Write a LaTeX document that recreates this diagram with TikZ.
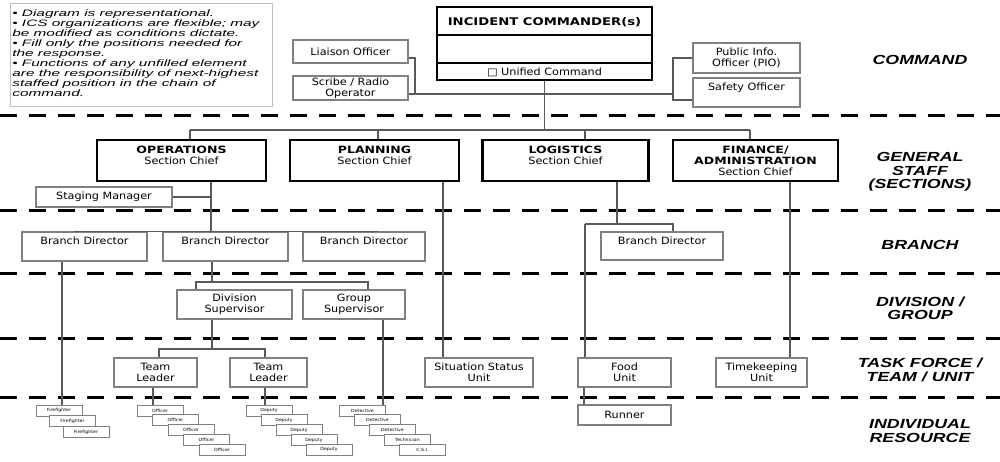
\documentclass[tikz,border=0pt]{standalone}
\usepackage{fontspec}
\setmainfont{DejaVu Sans}
\newfontfamily\boxfont[FakeStretch=1.12]{DejaVu Sans}
\newfontfamily\headfont[FakeStretch=1.25]{DejaVu Sans}
\newfontfamily\tierfont[FakeStretch=1.35]{Liberation Sans}
\newfontfamily\notefont[FakeStretch=1.65]{Liberation Sans}
\usetikzlibrary{positioning}
\usepackage{xcolor}
\definecolor{boxline}{gray}{0.5}
\definecolor{wireline}{gray}{0.35}

\begin{document}
\begin{tikzpicture}[
        x=0.02cm, y=-0.02cm,
        sz/.style 2 args={minimum width=#1*0.02cm, minimum height=#2*0.02cm},
        box/.style={
            draw=boxline,
            line width=0.8pt,
            fill=white,
            inner sep=0pt,
            align=center,
            font=\boxfont\fontsize{5.7}{6.3}\selectfont
        },
        chief/.style={box, draw=black, line width=1.4pt},
        head/.style={font=\headfont\bfseries\fontsize{6}{6.3}\selectfont},
        res/.style={
            draw=boxline,
            line width=0.5pt,
            fill=white,
            inner sep=0pt,
            sz={46}{11},
            font=\boxfont\fontsize{2.4}{3}\selectfont
        },
        wire/.style={draw=wireline, line width=0.85pt},
        tierline/.style={line width=1.7pt, dash pattern=on 0.34cm off 0.24cm},
        tier/.style={align=center, font=\tierfont\bfseries\itshape\fontsize{7.5}{7.7}\selectfont}
    ]
        \useasboundingbox (0,0) rectangle (1000,461);

        % Tier separators
        \foreach \yy in {115,210,273,338,397}
            \draw[tierline] (0,\yy) -- (1000,\yy);

        % Notes
        \node[draw=gray!50, line width=0.4pt, sz={262}{103}, inner sep=0pt] (notebox) at (141,54.5) {};
        \node[anchor=north west, align=left, inner sep=0pt,
              font=\notefont\itshape\fontsize{5.3}{5.75}\selectfont] (notes) at (12,9)
            {• Diagram is representational.\\
             • ICS organizations are flexible; may\\
             be modified as conditions dictate.\\
             • Fill only the positions needed for\\
             the response.\\
             • Functions of any unfilled element\\
             are the responsibility of next-highest\\
             staffed position in the chain of\\
             command.};

        % Tier labels
        \node[tier] (tcmd) at (920,60) {COMMAND};
        \node[tier] (tgen) at (920,172) {GENERAL\\STAFF\\(SECTIONS)};
        \node[tier] (tbr) at (920,245) {BRANCH};
        \node[tier] (tdiv) at (920,308.5) {DIVISION /\\GROUP};
        \node[tier] (ttf) at (920,370) {TASK FORCE /\\TEAM / UNIT};
        \node[tier] (tind) at (920,431) {INDIVIDUAL\\RESOURCE};

        % Command
        \node[chief, sz={215}{73}] (ic) at (544.5,43.5) {};
        \draw[line width=0.6pt] (ic.west |- 0,35) -- (ic.east |- 0,35);
        \draw[line width=0.6pt] (ic.west |- 0,63) -- (ic.east |- 0,63);
        \node[head] (ictitle) at (544.5,22) {INCIDENT COMMANDER(s)};
        \node[font=\boxfont\fontsize{5.7}{6.3}\selectfont] (icuc) at (544.5,72) {□\ Unified Command};

        \node[box, sz={115}{23}] (liaison) at (350.5,51.5) {Liaison Officer};
        \node[box, sz={115}{24}] (scribe) at (350.5,88) {Scribe / Radio\\Operator};
        \node[box, sz={107}{30}] (pio) at (746.5,58) {Public Info.\\Officer (PIO)};
        \node[box, sz={107}{29}] (safety) at (746.5,92.5) {Safety Officer\\\phantom{X}};

        \coordinate (cmdL) at (415,94);
        \coordinate (cmdR) at (673,94);
        \draw[wire] (liaison.east |- 0,58) -| (cmdL) -- (cmdR);
        \draw[wire] (scribe.east |- cmdL) -- (cmdL);
        \draw[wire] (pio.west) -| (cmdR) |- (safety.west |- 0,100);

        % General staff
        \node[chief, sz={169}{41}] (ops) at (181.5,160.5) {{\headfont\bfseries OPERATIONS}\\Section Chief\\\phantom{X}};
        \node[chief, sz={169}{41}] (plan) at (374.5,160.5) {{\headfont\bfseries PLANNING}\\Section Chief\\\phantom{X}};
        \node[chief, sz={166}{41}] (logi) at (565.5,160.5) {{\headfont\bfseries LOGISTICS}\\Section Chief\\\phantom{X}};
        \node[chief, sz={165}{41}] (fin) at (755.5,160.5) {{\headfont\bfseries FINANCE/}\\{\headfont\bfseries ADMINISTRATION}\\Section Chief};

        \coordinate (busO) at (190,130);
        \coordinate (busP) at (378,130);
        \coordinate (busL) at (585,130);
        \coordinate (busF) at (750,130);
        \draw[wire] (busO) -- (busF);
        \draw[wire] (ic.south) -- (ic.south |- busO);
        \foreach \s/\c in {ops/busO, plan/busP, logi/busL, fin/busF}
            \draw[wire] (\c) -- (\c |- \s.north);

        \node[box, sz={136}{20}] (staging) at (104,197) {Staging Manager};

        % Branches
        \node[box, sz={125}{29}] (bd1) at (84.5,246.5) {Branch Director\\\phantom{X}};
        \node[box, sz={125}{29}] (bd2) at (225.5,246.5) {Branch Director\\\phantom{X}};
        \node[box, sz={122}{29}] (bd3) at (364,246.5) {Branch Director\\\phantom{X}};
        \node[box, sz={122}{28}] (bdl) at (662,246) {Branch Director\\\phantom{X}};

        \coordinate (opsdrop) at (211,225);
        \draw[wire] (ops.south -| opsdrop) -- (opsdrop);
        \draw[wire] (staging.east) -- (staging.east -| opsdrop);
        \draw[wire] (bd1.north -| 74,0) |- (bd3.north -| 378,225) -- (bd3.north -| 378,0);
        \draw[wire] (opsdrop) -- (bd2.north -| opsdrop);

        \coordinate (logdrop) at (617,224);
        \draw[wire] (logi.south -| logdrop) -- (logdrop);
        \draw[wire] (585,224) -- (673,224) -- (bdl.north -| 673,0);

        % Division / group
        \node[box, sz={115}{29}] (divsup) at (234.5,304.5) {Division\\Supervisor};
        \node[box, sz={102}{29}] (grpsup) at (354,304.5) {Group\\Supervisor};
        \draw[wire] (bd2.south -| 212,0) -- (212,282);
        \draw[wire] (divsup.north -| 196,0) |- (368,282) -- (grpsup.north -| 368,0);

        % Task force / team / unit
        \node[box, sz={83}{29}] (team1) at (155.5,372.5) {Team\\Leader};
        \node[box, sz={77}{29}] (team2) at (268.5,372.5) {Team\\Leader};
        \node[box, sz={108}{29}] (sitstat) at (479,372.5) {Situation Status\\Unit};
        \node[box, sz={93}{29}] (food) at (624.5,372.5) {Food\\Unit};
        \node[box, sz={91}{29}] (timek) at (761.5,372.5) {Timekeeping\\Unit};
        \draw[wire] (divsup.south -| 212,0) -- (212,349);
        \draw[wire] (team1.north -| 159,0) |- (265,349) -- (team2.north -| 265,0);
        \draw[wire] (plan.south -| 443,0) -- (sitstat.north -| 443,0);
        \draw[wire] (585,224) -- (food.north -| 585,0);
        \draw[wire] (fin.south -| 790,0) -- (timek.north -| 790,0);

        % Individual resources
        \node[box, sz={93}{20}] (runner) at (624.5,415) {Runner};
        \draw[wire] (food.south -| 584,0) -- (runner.north -| 584,0);

        \foreach \t [count=\i] in {Firefighter,Firefighter,Firefighter}
            \node[res] (ff\i) at ({59+13.5*(\i-1)},{410.5+10.7*(\i-1)}) {\t};
        \foreach \t [count=\i] in {Officer,Officer,Officer,Officer,Officer}
            \node[res] (off\i) at ({160+15.5*(\i-1)},{410.5+9.8*(\i-1)}) {\t};
        \foreach \t [count=\i] in {Deputy,Deputy,Deputy,Deputy,Deputy}
            \node[res] (dep\i) at ({269+15*(\i-1)},{410.5+9.8*(\i-1)}) {\t};
        \foreach \t [count=\i] in {Detective,Detective,Detective,Technician,C.S.I.}
            \node[res] (det\i) at ({362.5+15*(\i-1)},{410.5+9.8*(\i-1)}) {\t};

        \draw[wire] (bd1.south -| 62,0) -- (ff1.north -| 62,0);
        \draw[wire] (team1.south -| 153,0) -- (off1.north -| 153,0);
        \draw[wire] (team2.south -| 265,0) -- (dep1.north -| 265,0);
        \draw[wire] (grpsup.south -| 383,0) -- (det1.north -| 383,0);
    \end{tikzpicture}
\end{document}
